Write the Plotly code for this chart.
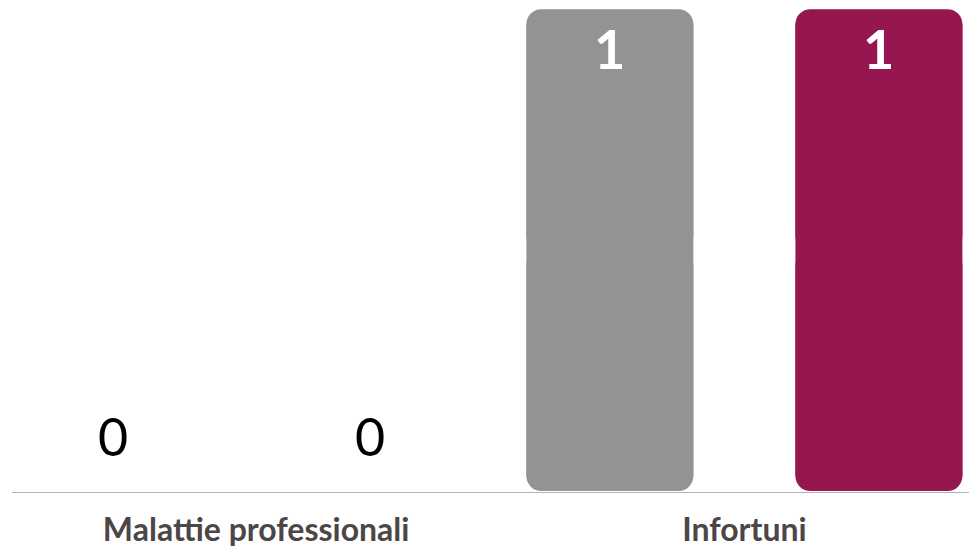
import plotly.graph_objects as go

categories = ["Malattie professionali", "Infortuni"]
series_names = ["2022", "2023"]
values_a = [0, 1]
values_b = [0, 1]
colors = ["#939393", "#961650"]

offsets = [-0.4465, 0.1045]
bar_w = 0.342
zero_label_pos = [-0.293, 0.234]

fig = go.Figure()
annotations = []
for s, (name, vals, col, off) in enumerate(zip(series_names, [values_a, values_b], colors, offsets)):
    half = [v / 2 for v in vals]
    mk = dict(color=col, cornerradius=15, line=dict(width=0), opacity=1)
    # lower half, rounded at the bottom
    fig.add_trace(go.Bar(x=categories, y=[-h for h in half], base=half, offset=off, width=bar_w,
                         marker=mk, hoverinfo="skip", showlegend=False))
    # upper half, rounded at the top
    fig.add_trace(go.Bar(x=categories, y=half, base=half, offset=off, width=bar_w, name=name,
                         marker=mk, showlegend=False))
    # square middle section joining both halves
    fig.add_trace(go.Bar(x=categories, y=[v * 0.94 for v in vals], base=[v * 0.03 for v in vals],
                         offset=off, width=bar_w,
                         marker=dict(color=col, line=dict(width=0), opacity=1),
                         hoverinfo="skip", showlegend=False))
    for i, v in enumerate(vals):
        if v == 0:
            annotations.append(dict(
                x=i + zero_label_pos[s], y=v, xref="x", yref="y", text=str(v),
                showarrow=False, yanchor="bottom", yshift=22,
                font=dict(family="Lato", size=52, color="black"),
            ))
        else:
            annotations.append(dict(
                x=i + off + bar_w / 2, y=v, xref="x", yref="y", text=str(v),
                showarrow=False, yanchor="top", yshift=-5,
                font=dict(family="Lato", size=54, color="white", weight="bold"),
            ))

fig.update_layout(
    width=969, height=547,
    margin=dict(l=12, r=0, t=0, b=55),
    barmode="overlay",
    plot_bgcolor="white", paper_bgcolor="white",
    annotations=annotations,
    xaxis=dict(
        range=[-0.5, 1.46], showgrid=False, showline=True, linecolor="#b3b3b3",
        linewidth=1, ticks="", fixedrange=True, ticklabelstandoff=10,
        tickfont=dict(family="Lato", size=32, color="#4d4646", weight="bold"),
    ),
    yaxis=dict(range=[-0.002, 1.019], visible=False, showgrid=False, zeroline=False),
    showlegend=False,
)

fig.write_html("out.html", post_script="document.body.style.margin='0';",
               config={"displayModeBar": False})
